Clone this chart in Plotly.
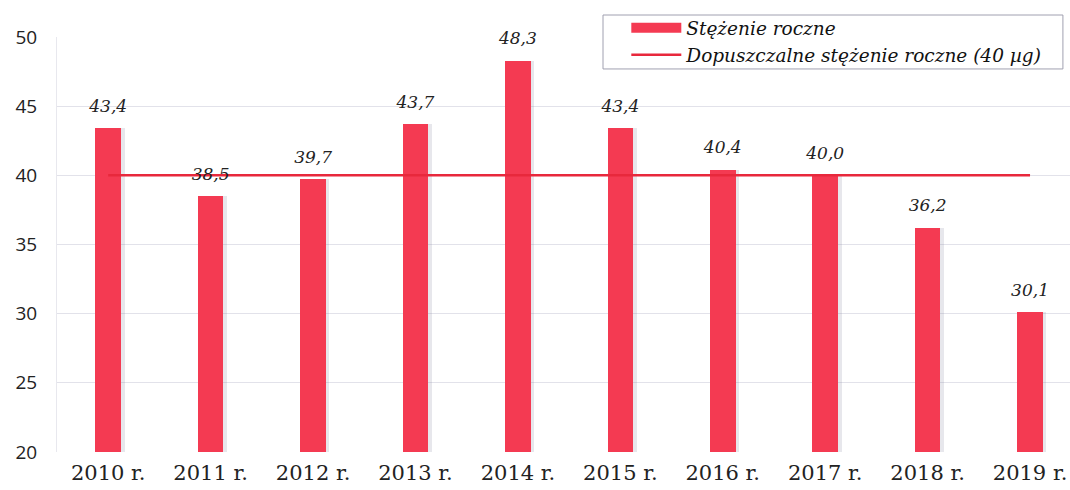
import plotly.graph_objects as go

years = ["2010 r.", "2011 r.", "2012 r.", "2013 r.", "2014 r.", "2015 r.", "2016 r.", "2017 r.", "2018 r.", "2019 r."]
annual = [43.4, 38.5, 39.7, 43.7, 48.3, 43.4, 40.4, 40.0, 36.2, 30.1]
limit = [40] * len(years)
y_ticks = [20, 25, 30, 35, 40, 45, 50]

xs = list(range(len(years)))
bar_color = "#F43A52"
line_color = "#E8283C"
serif = "DejaVu Serif"

fig = go.Figure()
# soft shadow behind bars
fig.add_trace(go.Bar(
    x=xs, y=annual, width=0.25, offset=-0.125 + 0.035,
    marker=dict(color="rgba(120,120,150,0.18)", line=dict(width=0)),
    showlegend=False, hoverinfo="skip"))
fig.add_trace(go.Bar(
    x=xs, y=annual, width=0.25, offset=-0.125,
    name="Stężenie roczne", showlegend=False,
    marker=dict(color=bar_color, line=dict(width=0))))
# legend entry for the bars (wide red block)
fig.add_trace(go.Scatter(
    x=[None], y=[None], mode="lines", name="Stężenie roczne",
    line=dict(color=bar_color, width=12)))
fig.add_trace(go.Scatter(
    x=xs, y=limit, mode="lines", name="Dopuszczalne stężenie roczne (40 µg)",
    line=dict(color=line_color, width=2.5)))
# value labels
fig.add_trace(go.Scatter(
    x=xs, y=annual, mode="markers+text", showlegend=False, hoverinfo="skip",
    marker=dict(size=18, color="rgba(0,0,0,0)"),
    texttemplate="%{y:.1f}", textposition="top center", cliponaxis=False,
    textfont=dict(family=serif, size=17, color="#222", style="italic")))

fig.update_layout(
    width=1070, height=490,
    margin=dict(l=57, r=0, t=37, b=38, autoexpand=False),
    paper_bgcolor="white", plot_bgcolor="white",
    separators=", ",
    barmode="overlay",
    bargap=0,
    shapes=[dict(type="rect", xref="paper", yref="paper",
                 x0=0.539, x1=0.993, y0=0.923, y1=1.053,
                 fillcolor="white", line=dict(color="#a0a0b0", width=1),
                 layer="above")],
    legend=dict(
        x=0.562, y=1.067, xanchor="left", yanchor="top",
        bgcolor="rgba(0,0,0,0)", borderwidth=0,
        font=dict(family=serif, size=18.5, color="#111", style="italic"),
        tracegroupgap=0, itemwidth=50,
    ),
    xaxis=dict(
        range=[-0.5, 9.39], tickvals=xs, ticktext=years,
        showgrid=False, zeroline=False, showline=False, ticks="",
        tickfont=dict(family=serif, size=21, color="#222"),
        ticklabelstandoff=6, automargin=False,
    ),
    yaxis=dict(
        range=[20, 50], tickvals=y_ticks,
        showgrid=True, gridcolor="#e2e2ea", gridwidth=1,
        zeroline=False, showline=True, linecolor="#e8e8ee", ticks="",
        tickfont=dict(family="Open Sans", size=19, color="#222"),
        ticklabelstandoff=15, automargin=False,
    ),
)

# remove the default page margin so the figure fills the window exactly
fig.write_html(
    "out.html",
    config={"displayModeBar": False},
    post_script="document.body.style.margin='0';document.body.style.overflow='hidden';",
)
